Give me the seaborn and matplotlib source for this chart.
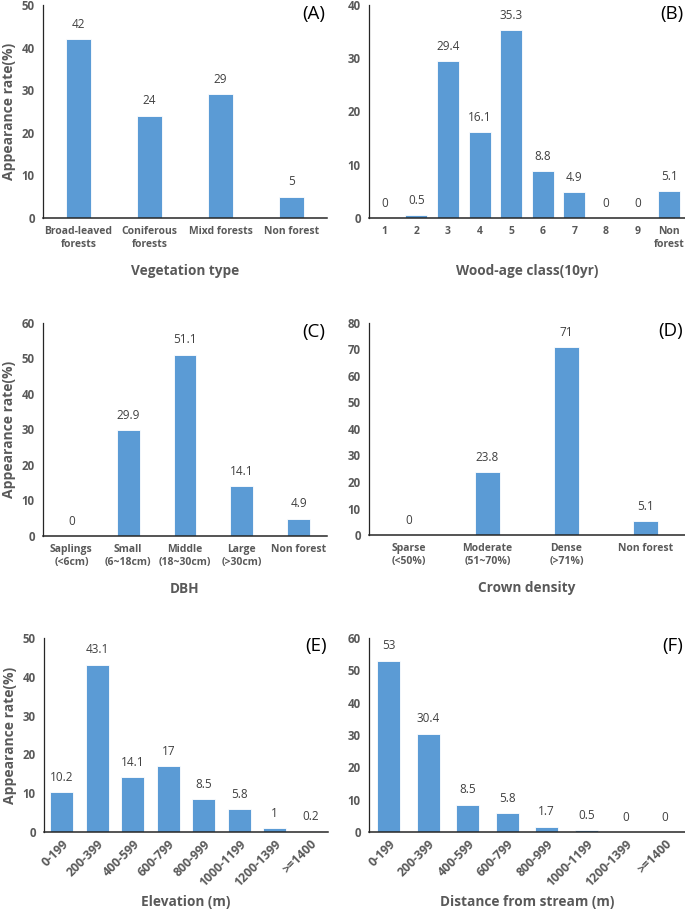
import matplotlib
matplotlib.use("Agg")
import matplotlib.pyplot as plt
import seaborn as sns
import pandas as pd

# === DATA ===
veg_types = ["Broad-leaved\nforests", "Coniferous\nforests", "Mixd forests", "Non forest"]
veg_rates = [42, 24, 29, 5]

age_classes = ["1", "2", "3", "4", "5", "6", "7", "8", "9", "Non\nforest"]
age_rates = [0, 0.5, 29.4, 16.1, 35.3, 8.8, 4.9, 0, 0, 5.1]

dbh_classes = ["Saplings\n(<6cm)", "Small\n(6~18cm)", "Middle\n(18~30cm)", "Large\n(>30cm)", "Non forest"]
dbh_rates = [0, 29.9, 51.1, 14.1, 4.9]

crown_classes = ["Sparse\n(<50%)", "Moderate\n(51~70%)", "Dense\n(>71%)", "Non forest"]
crown_rates = [0, 23.8, 71, 5.1]

elev_classes = ["0-199", "200-399", "400-599", "600-799", "800-999", "1000-1199", "1200-1399", ">=1400"]
elev_rates = [10.2, 43.1, 14.1, 17, 8.5, 5.8, 1, 0.2]

stream_classes = ["0-199", "200-399", "400-599", "600-799", "800-999", "1000-1199", "1200-1399", ">=1400"]
stream_rates = [53, 30.4, 8.5, 5.8, 1.7, 0.5, 0, 0]

sns.set_style("white")
plt.rcParams['font.family'] = ['Open Sans', 'DejaVu Sans']

BAR_COLOR = "#5B9BD5"
GREY = "#595959"
W, H = 685, 911

fig = plt.figure(figsize=(6.85, 9.11), dpi=100)


def px_axes(left, top, right, bottom):
    return fig.add_axes([left / W, 1 - bottom / H, (right - left) / W, (bottom - top) / H])


def draw_panel(ax, cats, vals, width, ymax, step, xlabel, tag, ylabel=None, rotate=False):
    df = pd.DataFrame({"cat": cats, "val": vals})
    sns.barplot(data=df, x="cat", y="val", color=BAR_COLOR, saturation=1,
                width=width, ax=ax, edgecolor="white", linewidth=0.6)
    ax.bar_label(ax.containers[0], fmt="{:g}", padding=6, fontsize=8.5, color="#404040")
    ax.set_ylim(0, ymax)
    ax.set_yticks(range(0, ymax + 1, step))
    ax.set_xlim(-0.5, len(cats) - 0.5)
    ax.tick_params(axis="x", length=0, labelsize=8.8 if rotate else 7.5, labelcolor=GREY,
                   pad=4 if rotate else 6)
    ax.tick_params(axis="y", length=0, labelsize=8.3, labelcolor=GREY, pad=6)
    for lbl in ax.get_xticklabels() + ax.get_yticklabels():
        lbl.set_fontweight("bold")
    if rotate:
        for lbl in ax.get_xticklabels():
            lbl.set_rotation(45)
            lbl.set_ha("right")
            lbl.set_rotation_mode("anchor")
    sns.despine(ax=ax)
    ax.spines["left"].set_color("#262626")
    ax.spines["bottom"].set_color("#262626")
    ax.spines["left"].set_linewidth(0.9)
    ax.spines["bottom"].set_linewidth(1.1)
    ax.set_xlabel(xlabel, fontsize=9.8, fontweight="bold", color=GREY,
                  labelpad=4 if rotate else 10)
    if ylabel:
        ax.set_ylabel(ylabel, fontsize=10, fontweight="bold", color=GREY, labelpad=4)
    else:
        ax.set_ylabel("")
    ax.text(0.995, 0.96, tag, transform=ax.transAxes, ha="right", va="center",
            fontsize=13.5, color="black")


# --- (A) Vegetation type ---
ax_a = px_axes(43, 5, 327, 218)
draw_panel(ax_a, veg_types, veg_rates, 0.36, 50, 10, "Vegetation type", "(A)",
           ylabel="Appearance rate(%)")

# --- (B) Wood-age class ---
ax_b = px_axes(369, 5, 685, 218)
draw_panel(ax_b, age_classes, age_rates, 0.7, 40, 10, "Wood-age class(10yr)", "(B)")

# --- (C) DBH ---
ax_c = px_axes(43, 323, 327, 536)
draw_panel(ax_c, dbh_classes, dbh_rates, 0.4, 60, 10, "DBH", "(C)",
           ylabel="Appearance rate(%)")

# --- (D) Crown density ---
ax_d = px_axes(369, 323, 685, 535)
draw_panel(ax_d, crown_classes, crown_rates, 0.32, 80, 10, "Crown density", "(D)")

# --- (E) Elevation ---
ax_e = px_axes(44, 638, 328, 832)
draw_panel(ax_e, elev_classes, elev_rates, 0.64, 50, 10, "Elevation (m)", "(E)",
           ylabel="Appearance rate(%)", rotate=True)

# --- (F) Distance from stream ---
ax_f = px_axes(369, 638, 685, 832)
draw_panel(ax_f, stream_classes, stream_rates, 0.59, 60, 10, "Distance from stream (m)", "(F)",
           rotate=True)

fig.savefig("out.png", dpi=100)
